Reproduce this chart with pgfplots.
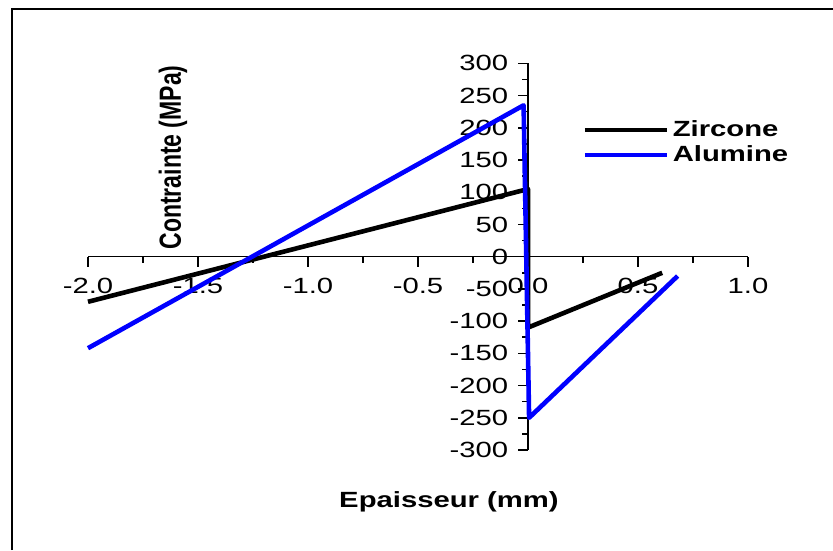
\documentclass[border=0pt]{standalone}
\usepackage{graphicx}
\usepackage{fontspec}
% the reference text is stretched horizontally
\setmainfont[FakeStretch=1.33]{Liberation Sans}
\newfontfamily\plainsans{Liberation Sans}
\usepackage{pgfplots}
\pgfplotsset{compat=1.18}

\begin{document}
\begin{tikzpicture}
\useasboundingbox (0,0) rectangle (416.5pt,275pt);
% frame (only top and left edges are visible)
\draw[line width=0.9pt] (6pt,0pt) -- (6pt,270.5pt) -- (416.5pt,270.5pt);

\begin{axis}[
  at={(44pt,50pt)}, anchor=south west,
  scale only axis,
  width=330pt, height=193.3pt,
  xmin=-2, xmax=1, ymin=-300, ymax=300,
  axis lines=middle,
  axis line style={-, line width=0.75pt},
  clip=false,
  hide obscured x ticks=false,
  hide obscured y ticks=false,
  xtick={-2,-1.5,-1,-0.5,0,0.5,1},
  xticklabels={-2.0,-1.5,-1.0,-0.5,0.0,0.5,1.0},
  ytick={-300,-250,-200,-150,-100,-50,0,50,100,150,200,250,300},
  yticklabels={-300,-250,-200,-150,-100,-50,0,50,100,150,200,250,300},
  minor x tick num=1,
  minor y tick num=1,
  tick align=outside,
  major tick length=5pt,
  minor tick length=3pt,
  tick style={black, line width=0.75pt},
  ticklabel style={font=\fontsize{11}{13}\selectfont, inner sep=0pt},
  xticklabel style={anchor=north, yshift=-5.6pt},
  yticklabel style={anchor=east, xshift=-4.75pt},
  legend style={at={(0.74,0.875)}, anchor=north west, draw=none, fill=none,
    font=\bfseries\fontsize{11}{13}\selectfont, row sep=-1pt},
  legend cell align=left,
  legend image code/.code={\draw[#1, line width=2pt] (0pt,0pt) -- (41pt,0pt);},
]
\addplot[black, line width=2.3pt, line join=round] coordinates {
  (-2,-70) (0,105) (0,-110) (0.61,-25)
};
\addlegendentry{Zircone}
\addplot[blue, line width=2.3pt, line join=round] coordinates {
  (-2,-142) (-0.02,235) (0.005,-250) (0.68,-30)
};
\addlegendentry{Alumine}
\end{axis}

\node[anchor=base, inner sep=0pt, font=\bfseries\fontsize{11}{13}\selectfont] at (224.5pt,21pt) {Epaisseur (mm)};
\node[rotate=90, inner sep=0pt] at (86.5pt,196.25pt)
  {\scalebox{1}[1.33]{\plainsans\bfseries\fontsize{11.5}{13}\selectfont Contrainte (MPa)}};
\end{tikzpicture}
\end{document}
